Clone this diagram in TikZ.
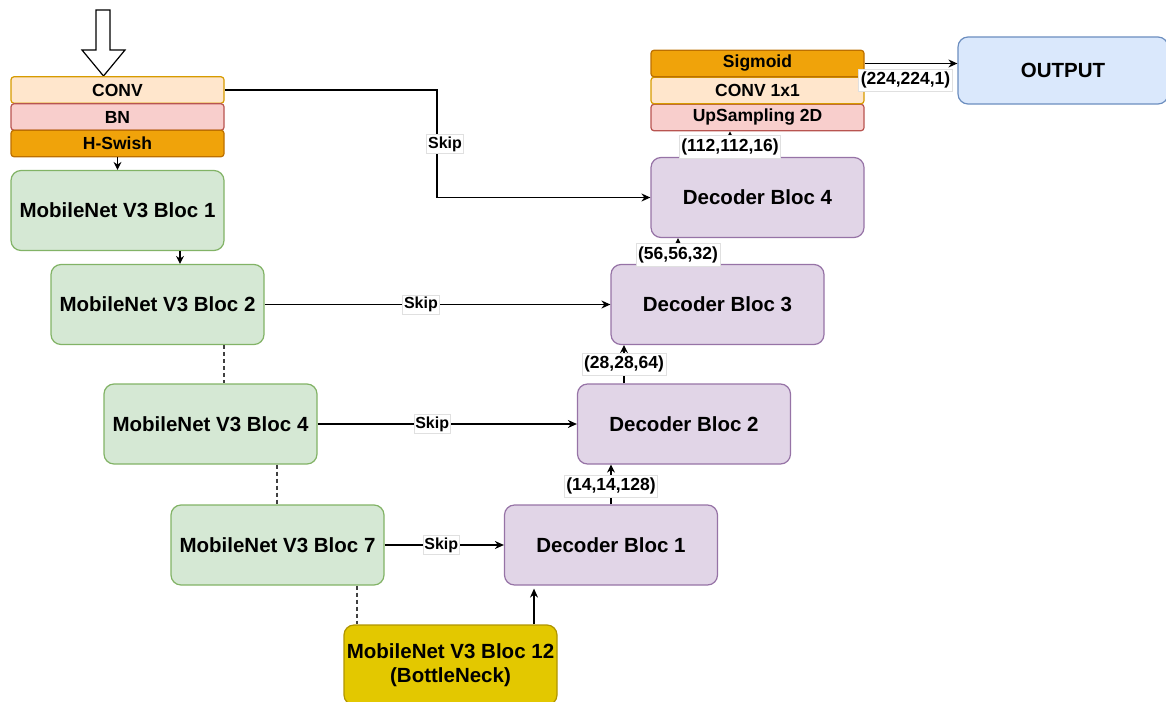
\documentclass[tikz,border=0pt]{standalone}
\usepackage{fontspec}
\setmainfont{Liberation Sans}
\usetikzlibrary{arrows.meta}

\definecolor{encFill}{HTML}{D5E8D4}
\definecolor{encLine}{HTML}{82B366}
\definecolor{decFill}{HTML}{E1D5E7}
\definecolor{decLine}{HTML}{9673A6}
\definecolor{neckFill}{HTML}{E3C800}
\definecolor{neckLine}{HTML}{B09500}
\definecolor{outFill}{HTML}{DAE8FC}
\definecolor{outLine}{HTML}{6C8EBF}
\definecolor{convFill}{HTML}{FFE6CC}
\definecolor{convLine}{HTML}{D79B00}
\definecolor{bnFill}{HTML}{F8CECC}
\definecolor{bnLine}{HTML}{B85450}
\definecolor{actFill}{HTML}{F0A30A}
\definecolor{actLine}{HTML}{BD7000}

\tikzset{
  block/.style={rectangle, rounded corners=10pt, line width=1.2pt,
    minimum width=213pt, minimum height=80pt, inner sep=0pt, align=center,
    font=\bfseries\fontsize{20.5}{24}\selectfont},
  enc/.style={block, fill=encFill, draw=encLine},
  dec/.style={block, fill=decFill, draw=decLine},
  layer/.style={rectangle, rounded corners=3pt, line width=1.2pt,
    minimum width=213pt, minimum height=26.5pt, inner sep=0pt,
    font=\bfseries\fontsize{17.5}{17.5}\selectfont},
  convL/.style={layer, fill=convFill, draw=convLine},
  bnL/.style={layer, fill=bnFill, draw=bnLine},
  actL/.style={layer, fill=actFill, draw=actLine},
  tag/.style={fill=white, draw=black!12, line width=0.6pt, inner xsep=2pt, inner ysep=3pt,
    font=\bfseries\fontsize{17.5}{17.5}\selectfont},
  skiptag/.style={tag, inner xsep=1.5pt, inner ysep=2pt, font=\bfseries\fontsize{16}{16}\selectfont},
  arr/.style={line width=1.2pt, -{Stealth[length=9pt,width=8pt]}},
  sarr/.style={line width=1.2pt, -{Stealth[length=8pt,width=8pt]}},
  link/.style={line width=1.2pt, dashed, dash pattern=on 4pt off 3pt, draw=black!75},
}

\begin{document}
\begin{tikzpicture}[x=1pt,y=-1pt]
\useasboundingbox (0,0) rectangle (1166,701);

% input arrow
\draw[fill=white, line width=1.2pt, line join=miter]
  (96,10) -- (110,10) -- (110,50) -- (125,50) -- (103.5,76) -- (82,50) -- (96,50) -- cycle;

% stem layers
\node[convL] (conv) at (117.5,90) {CONV};
\node[bnL]   (bn)   at (117.5,117) {BN};
\node[actL]  (hsw)  at (117.5,143.5) {H-Swish};

% encoder
\node[enc] (b1) at (117.5,210.5) {MobileNet V3 Bloc 1};
\node[enc] (b2) at (157.5,304.5) {MobileNet V3 Bloc 2};
\node[enc] (b4) at (210.5,424)   {MobileNet V3 Bloc 4};
\node[enc] (b7) at (277.5,545)   {MobileNet V3 Bloc 7};
\node[block, fill=neckFill, draw=neckLine] (b12) at (450.5,665)
  {MobileNet V3 Bloc 12\\(BottleNeck)};

% decoder
\node[dec] (d1) at (611,545)   {Decoder Bloc 1};
\node[dec] (d2) at (684,424)   {Decoder Bloc 2};
\node[dec] (d3) at (717.5,304.5) {Decoder Bloc 3};
\node[dec] (d4) at (757.5,197.5) {Decoder Bloc 4};

% head layers
\node[bnL]   (ups) at (757.5,117.5) {UpSampling 2D};
\node[convL] (c11) at (757.5,90.5)  {CONV 1x1};
\node[actL]  (sig) at (757.5,63.5)  {Sigmoid};

\node[block, fill=outFill, draw=outLine, minimum width=210pt, minimum height=67pt]
  (out) at (1063,70.5) {OUTPUT};

% guide coordinates for vertical connectors
\coordinate (x180) at (180,0);
\coordinate (x224) at (224,0);
\coordinate (x277) at (277,0);
\coordinate (x357) at (357,0);
\coordinate (x437) at (437,0);
\coordinate (x534) at (534,0);
\coordinate (x624) at (624,0);
\coordinate (x678) at (678,0);
\coordinate (x730) at (730,0);

% encoder chain
\draw[sarr] (hsw.south) -- (b1.north);
\draw[sarr] (b1.south -| x180) -- (b2.north -| x180);
\draw[link] (b2.south -| x224) -- (b4.north -| x224);
\draw[link] (b4.south -| x277) -- (b7.north -| x277);
\draw[link] (b7.south -| x357) -- (b12.north -| x357);

% bottleneck to decoder
\draw[arr] (b12.north -| x534) -- ([yshift=-3pt]d1.south -| x534);

% skip connections
\draw[arr] (conv.east) -| (x437 |- d4.west) -- (d4.west);
\node[skiptag] (s1) at (445,144) {Skip};
\draw[arr] (b2.east) -- node[skiptag, pos=0.452] (s2) {Skip} (d3.west);
\draw[arr] (b4.east) -- node[skiptag, pos=0.442] (s3) {Skip} (d2.west);
\draw[arr] (b7.east) -- node[skiptag, pos=0.475] (s4) {Skip} (d1.west);

% decoder chain
\draw[sarr] (d1.north) -- node[tag, pos=0.46] (t1) {(14,14,128)} (d2.south -| d1.north);
\draw[sarr] (d2.north -| x624) -- node[tag, pos=0.5] (t2) {(28,28,64)} (d3.south -| x624);
\draw[sarr] (d3.north -| x678) -- node[tag, pos=0.35] (t3) {(56,56,32)} (d4.south -| x678);
\draw[sarr] (d4.north -| x730) -- node[tag, pos=0.4] (t4) {(112,112,16)} (ups.south -| x730);

% output
\draw[arr] (sig.east) -- (out.west |- sig.east);
\node[tag] (t5) at (905.5,80) {(224,224,1)};
\end{tikzpicture}
\end{document}
